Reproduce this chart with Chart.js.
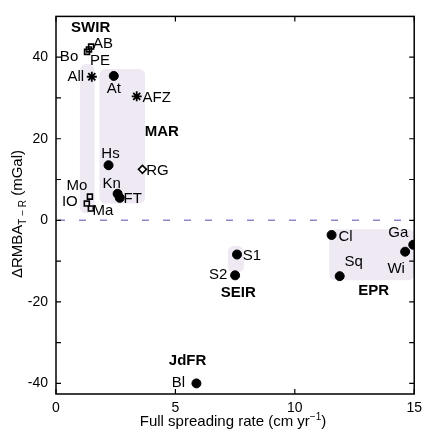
<!DOCTYPE html>
<html>
<head>
<meta charset="utf-8">
<script src="https://cdn.jsdelivr.net/npm/chart.js@4.4.1/dist/chart.umd.min.js"></script>
<style>
  html, body { margin: 0; padding: 0; background: #fff; }
</style>
</head>
<body>
<canvas id="stage" width="428" height="436"></canvas>
<script>
// 観測点データ（x: 全拡大速度 cm/yr, y: ΔRMBA mGal）
const circleNames = ['At', 'Hs', 'Kn', 'FT', 'S1', 'S2', 'Cl', 'Ga', 'Wi', 'Sq', 'Bl'];
const circleX = [2.42, 2.2, 2.58, 2.67, 7.58, 7.5, 11.54, 14.96, 14.62, 11.88, 5.88];
const circleY = [35.4, 13.5, 6.5, 5.5, -8.4, -13.5, -3.6, -6.0, -7.7, -13.7, -40.0];

const squareNames = ['Bo', 'PE', 'AB', 'Mo', 'IO', 'Ma'];
const squareX = [1.3, 1.38, 1.47, 1.42, 1.29, 1.46];
const squareY = [41.3, 41.9, 42.6, 5.8, 4.1, 2.9];

const starNames = ['All', 'AFZ'];
const starX = [1.5, 3.38];
const starY = [35.2, 30.4];

const diamondNames = ['RG'];
const diamondX = [3.62];
const diamondY = [12.5];

// 海嶺グループ
const ridgeNames = ['SWIR', 'MAR', 'SEIR', 'EPR', 'JdFR'];
const ridgeX = [1.45, 4.43, 7.63, 13.3, 5.51];
const ridgeY = [47.2, 21.7, -17.8, -17.3, -34.5];

// 網掛け範囲 [xmin, xmax, ymin, ymax]
const shadeBoxes = [
    [1.0, 1.62, 1.7, 38.3],
    [1.82, 3.73, 4.1, 37.1],
    [7.2, 7.87, -12.8, -6.3],
    [11.44, 15.0, -14.7, -2.2]
];

const xTicks = [0, 5, 10, 15];
const yTicks = [-40, -30, -20, -10, 0, 10, 20, 30, 40];

// ラベル位置のずれ（px）
const labelOffset = {
    At: [0, 13], Hs: [2, -11], Kn: [-6, -10], FT: [13, 1],
    S1: [15, 1], S2: [-17, 0], Cl: [14, 2], Ga: [-15, -12],
    Wi: [-9, 17], Sq: [14, -14], Bl: [-18, -1],
    Bo: [-18, 5], PE: [11, 11], AB: [12, -3],
    Mo: [-13, -11], IO: [-17, -2], Ma: [12, 2],
    All: [-16, 0], AFZ: [20, 2], RG: [15, 2]
};

const FONT = '"Liberation Sans", Arial, sans-serif';

function toPoints(xs, ys) {
    return xs.map((x, i) => ({ x: x, y: ys[i] }));
}

function roundRect(ctx, x, y, w, h, r) {
    ctx.beginPath();
    ctx.moveTo(x + r, y);
    ctx.arcTo(x + w, y, x + w, y + h, r);
    ctx.arcTo(x + w, y + h, x, y + h, r);
    ctx.arcTo(x, y + h, x, y, r);
    ctx.arcTo(x, y, x + w, y, r);
    ctx.closePath();
}

const overlay = {
    id: 'overlay',
    beforeDatasetsDraw(chart) {
        const ctx = chart.ctx, xs = chart.scales.x, ys = chart.scales.y;
        const a = chart.chartArea;
        ctx.save();
        // 網掛け
        ctx.fillStyle = '#eee9f3';
        for (const b of shadeBoxes) {
            const x0 = xs.getPixelForValue(b[0]), x1 = xs.getPixelForValue(b[1]);
            const y0 = ys.getPixelForValue(b[3]), y1 = ys.getPixelForValue(b[2]);
            roundRect(ctx, x0, y0, x1 - x0, y1 - y0, 6);
            ctx.fill();
        }
        // ゼロ線（破線）
        const y0 = ys.getPixelForValue(0);
        ctx.strokeStyle = '#8c88c8';
        ctx.lineWidth = 1.5;
        ctx.setLineDash([7, 14]);
        ctx.beginPath();
        ctx.moveTo(a.left + 2, y0);
        ctx.lineTo(a.right, y0);
        ctx.stroke();
        ctx.restore();
    },
    afterDatasetsDraw(chart) {
        const ctx = chart.ctx, xs = chart.scales.x, ys = chart.scales.y;
        const a = chart.chartArea;
        ctx.save();
        ctx.fillStyle = '#000';
        ctx.textAlign = 'center';
        ctx.textBaseline = 'middle';
        // 点ラベル
        ctx.font = '15px ' + FONT;
        const groups = [
            [circleNames, circleX, circleY], [squareNames, squareX, squareY],
            [starNames, starX, starY], [diamondNames, diamondX, diamondY]
        ];
        for (const g of groups) {
            g[0].forEach((name, i) => {
                const off = labelOffset[name] || [0, 0];
                ctx.fillText(name, xs.getPixelForValue(g[1][i]) + off[0], ys.getPixelForValue(g[2][i]) + off[1]);
            });
        }
        // 海嶺名
        ctx.font = 'bold 15px ' + FONT;
        ridgeNames.forEach((name, i) => {
            ctx.fillText(name, xs.getPixelForValue(ridgeX[i]), ys.getPixelForValue(ridgeY[i]));
        });

        // 枠と内向き目盛り
        ctx.strokeStyle = '#000';
        ctx.lineWidth = 1.5;
        ctx.setLineDash([]);
        ctx.strokeRect(a.left, a.top, a.right - a.left, a.bottom - a.top);
        ctx.lineWidth = 1.2;
        ctx.beginPath();
        for (const v of yTicks) {
            const p = ys.getPixelForValue(v);
            ctx.moveTo(a.left, p); ctx.lineTo(a.left + 5, p);
            ctx.moveTo(a.right, p); ctx.lineTo(a.right - 5, p);
        }
        for (const v of xTicks) {
            const p = xs.getPixelForValue(v);
            ctx.moveTo(p, a.bottom); ctx.lineTo(p, a.bottom - 5);
            ctx.moveTo(p, a.top); ctx.lineTo(p, a.top + 5);
        }
        ctx.stroke();

        // x軸タイトル（上付き）
        ctx.textAlign = 'left';
        ctx.textBaseline = 'alphabetic';
        const xt1 = 'Full spreading rate (cm yr', xt2 = '\u22121', xt3 = ')';
        ctx.font = '15px ' + FONT;
        const w1 = ctx.measureText(xt1).width, w3 = ctx.measureText(xt3).width;
        ctx.font = '10px ' + FONT;
        const w2 = ctx.measureText(xt2).width;
        let tx = 233 - (w1 + w2 + w3) / 2;
        const ty = 426;
        ctx.font = '15px ' + FONT;
        ctx.fillText(xt1, tx, ty);
        ctx.font = '10px ' + FONT;
        ctx.fillText(xt2, tx + w1, ty - 6);
        ctx.font = '15px ' + FONT;
        ctx.fillText(xt3, tx + w1 + w2, ty);

        // y軸タイトル（下付き）
        ctx.translate(22, 214);
        ctx.rotate(-Math.PI / 2);
        const yt1 = '\u0394RMBA', yt2 = 'T \u2212 R', yt3 = ' (mGal)';
        ctx.font = '15px ' + FONT;
        const v1 = ctx.measureText(yt1).width, v3 = ctx.measureText(yt3).width;
        ctx.font = '10px ' + FONT;
        const v2 = ctx.measureText(yt2).width;
        let sx = -(v1 + v2 + v3) / 2;
        ctx.font = '15px ' + FONT;
        ctx.fillText(yt1, sx, 0);
        ctx.font = '10px ' + FONT;
        ctx.fillText(yt2, sx + v1, 4);
        ctx.font = '15px ' + FONT;
        ctx.fillText(yt3, sx + v1 + v2, 0);
        ctx.restore();
    }
};

const chartData = {
    datasets: [
        {
            label: 'circle',
            data: toPoints(circleX, circleY),
            pointStyle: 'circle',
            pointRadius: 4.5,
            backgroundColor: '#000',
            borderColor: '#000',
            borderWidth: 1
        },
        {
            label: 'square',
            data: toPoints(squareX, squareY),
            pointStyle: 'rect',
            pointRadius: 3.5,
            backgroundColor: 'rgba(255,255,255,0)',
            borderColor: '#000',
            borderWidth: 1.6
        },
        {
            label: 'star',
            data: toPoints(starX, starY),
            pointStyle: 'star',
            pointRadius: 5,
            backgroundColor: '#000',
            borderColor: '#000',
            borderWidth: 1.8
        },
        {
            label: 'diamond',
            data: toPoints(diamondX, diamondY),
            pointStyle: 'rectRot',
            pointRadius: 4,
            backgroundColor: '#fff',
            borderColor: '#000',
            borderWidth: 1.6
        }
    ]
};

const chartOption = {
    responsive: false,
    animation: false,
    devicePixelRatio: 1,
    layout: { padding: { top: 10, right: 10, left: 0, bottom: 0 } },
    plugins: {
        legend: { display: false },
        tooltip: { enabled: false }
    },
    scales: {
        x: {
            type: 'linear',
            min: 0, max: 15,
            afterFit: s => { s.height = 42; },
            grid: { display: false, drawTicks: false },
            border: { display: false },
            ticks: {
                stepSize: 5,
                padding: 6,
                color: '#000',
                font: { family: FONT, size: 14 }
            }
        },
        y: {
            type: 'linear',
            min: -42.6, max: 50,
            afterFit: s => { s.width = 56; },
            grid: { display: false, drawTicks: false },
            border: { display: false },
            ticks: {
                stepSize: 10,
                includeBounds: false,
                padding: 8,
                color: '#000',
                font: { family: FONT, size: 14 },
                callback: v => (v % 20 === 0 && v > -50 && v < 50) ? String(v) : ''
            }
        }
    }
};

new Chart(document.getElementById('stage'), {
    type: 'scatter',
    data: chartData,
    options: chartOption,
    plugins: [overlay]
});
</script>
</body>
</html>
